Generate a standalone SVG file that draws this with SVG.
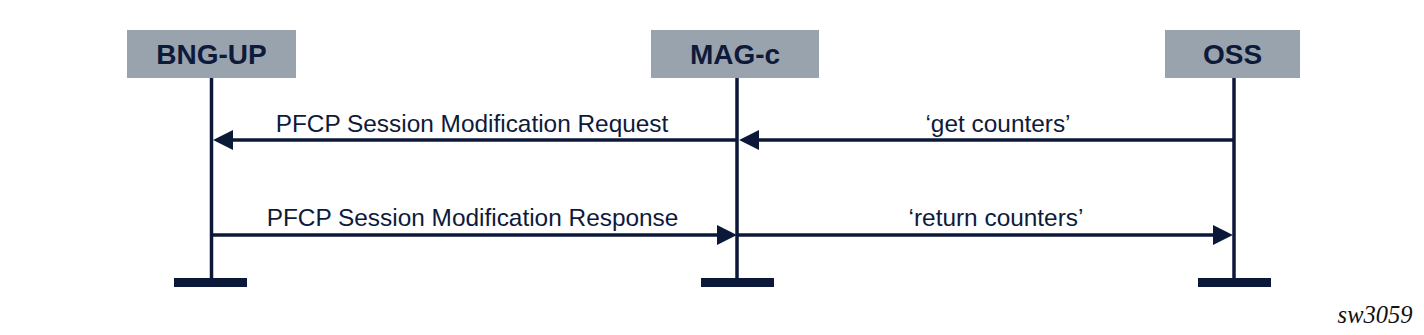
<svg xmlns="http://www.w3.org/2000/svg" width="1424" height="335" viewBox="0 0 1424 335">
  <style>
    .box { fill: #99a3ae; }
    .head { font-family: "Liberation Sans", Arial, sans-serif; font-weight: bold; font-size: 28px; fill: #0e1a3a; text-anchor: middle; }
    .lbl { font-family: "Liberation Sans", Arial, sans-serif; font-size: 24.4px; fill: #0e1a3a; text-anchor: middle; }
    .life { stroke: #0c1838; stroke-width: 3.5; fill: none; }
    .bar { fill: #0c1838; }
    .msg { stroke: #0c1838; stroke-width: 3.5; fill: none; marker-end: url(#arr); }
    .tag { font-family: "Liberation Serif", "Times New Roman", serif; font-style: italic; font-size: 24.5px; fill: #111; text-anchor: end; }
  </style>
  <defs>
    <marker id="arr" markerUnits="userSpaceOnUse" markerWidth="20" markerHeight="20" viewBox="0 0 18 18" refX="10" refY="9" orient="auto">
      <path d="M0,0 L18,9 L0,18 z" fill="#0c1838"/>
    </marker>
  </defs>
  <rect width="1424" height="335" fill="#ffffff"/>

  <g id="node-bng-up">
    <rect class="box" x="127" y="30" width="169" height="48"/>
    <text class="head" x="211.5" y="64">BNG-UP</text>
    <line class="life" x1="211.5" y1="78" x2="211.5" y2="279"/>
    <rect class="bar" x="174" y="278" width="73" height="9"/>
  </g>

  <g id="node-mag-c">
    <rect class="box" x="651" y="30" width="168" height="48"/>
    <text class="head" x="735" y="64">MAG-c</text>
    <line class="life" x1="737" y1="78" x2="737" y2="279"/>
    <rect class="bar" x="701" y="278" width="73" height="9"/>
  </g>

  <g id="node-oss">
    <rect class="box" x="1165" y="30" width="135" height="48"/>
    <text class="head" x="1232.5" y="64">OSS</text>
    <line class="life" x1="1234" y1="78" x2="1234" y2="279"/>
    <rect class="bar" x="1198" y="278" width="73" height="9"/>
  </g>

  <g id="connectors">
    <line class="msg" x1="737" y1="140" x2="222" y2="140"/>
    <line class="msg" x1="1234" y1="140" x2="748" y2="140"/>
    <line class="msg" x1="211.5" y1="235" x2="728" y2="235"/>
    <line class="msg" x1="737" y1="235" x2="1224" y2="235"/>
  </g>

  <g id="labels">
    <text class="lbl" x="472" y="132">PFCP Session Modification Request</text>
    <text class="lbl" x="998" y="132">‘get counters’</text>
    <text class="lbl" x="472.5" y="226">PFCP Session Modification Response</text>
    <text class="lbl" x="996" y="226">‘return counters’</text>
  </g>

  <text class="tag" x="1412.5" y="323">sw3059</text>
</svg>
